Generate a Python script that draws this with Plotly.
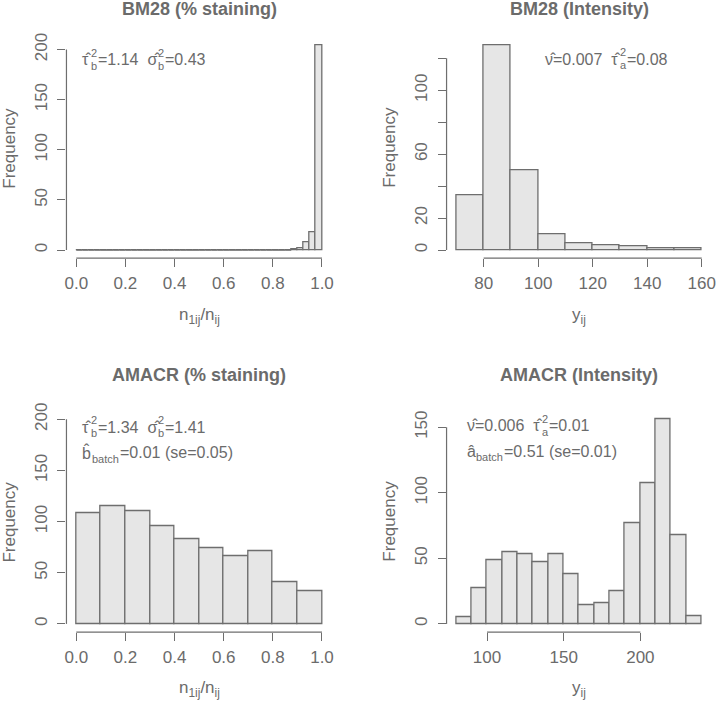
import numpy as np
import plotly.graph_objects as go

# ---------------- data ----------------
# Panel 1: BM28 (% staining)
bm28_pct_edges = [0.000, 0.025, 0.050, 0.075, 0.100, 0.125, 0.150, 0.175, 0.200, 0.225,
                  0.250, 0.275, 0.300, 0.325, 0.350, 0.375, 0.400, 0.425, 0.450, 0.475,
                  0.500, 0.525, 0.550, 0.575, 0.600, 0.625, 0.650, 0.675, 0.700, 0.725,
                  0.750, 0.775, 0.800, 0.825, 0.850, 0.875, 0.900, 0.925, 0.950, 0.975, 1.000]
bm28_pct_counts = [0, 0, 0, 0, 0, 0, 0, 0, 0, 0,
                   0, 0, 0, 0, 0, 0, 0, 0, 0, 0,
                   0, 0, 0, 0, 0, 0, 0, 0, 0, 0,
                   0, 0, 0, 0, 0, 1, 2, 8, 18, 204]
bm28_pct_xticks = [0.0, 0.2, 0.4, 0.6, 0.8, 1.0]
bm28_pct_xlabels = ["0.0", "0.2", "0.4", "0.6", "0.8", "1.0"]
bm28_pct_yticks = [0, 50, 100, 150, 200]
bm28_pct_ylabels = ["0", "50", "100", "150", "200"]

# Panel 2: BM28 (Intensity)
bm28_int_edges = [70, 80, 90, 100, 110, 120, 130, 140, 150, 160]
bm28_int_counts = [34, 128, 50, 10, 4, 3, 2, 1, 1]
bm28_int_xticks = [80, 100, 120, 140, 160]
bm28_int_xlabels = ["80", "100", "120", "140", "160"]
bm28_int_yticks = [0, 20, 40, 60, 80, 100, 120]
bm28_int_ylabels = ["0", "20", " ", "60", " ", "100", " "]

# Panel 3: AMACR (% staining)
amacr_pct_edges = [0.0, 0.1, 0.2, 0.3, 0.4, 0.5, 0.6, 0.7, 0.8, 0.9, 1.0]
amacr_pct_counts = [108, 115, 110, 96, 83, 74, 66, 71, 41, 32]
amacr_pct_xticks = [0.0, 0.2, 0.4, 0.6, 0.8, 1.0]
amacr_pct_xlabels = ["0.0", "0.2", "0.4", "0.6", "0.8", "1.0"]
amacr_pct_yticks = [0, 50, 100, 150, 200]
amacr_pct_ylabels = ["0", "50", "100", "150", "200"]
amacr_pct_ylim = [0, 200]

# Panel 4: AMACR (Intensity)
amacr_int_edges = [80, 90, 100, 110, 120, 130, 140, 150, 160, 170, 180, 190, 200, 210, 220, 230, 240]
amacr_int_counts = [5, 27, 49, 55, 53, 47, 53, 38, 14, 16, 25, 77, 107, 156, 68, 6]
amacr_int_xticks = [100, 150, 200]
amacr_int_xlabels = ["100", "150", "200"]
amacr_int_yticks = [0, 50, 100, 150]
amacr_int_ylabels = ["0", "50", "100", "150"]

titles = ["BM28 (% staining)", "BM28 (Intensity)", "AMACR (% staining)", "AMACR (Intensity)"]
xtitles = ["n<sub>1ij</sub>/n<sub>ij</sub>", "y<sub>ij</sub>",
           "n<sub>1ij</sub>/n<sub>ij</sub>", "y<sub>ij</sub>"]

# ---------------- style ----------------
W, H = 720, 702
FONT = "Liberation Sans, Arial, Helvetica, sans-serif"
TXT = "#6b6b6b"
AX = "#6e6e6e"
FILL = "#e6e6e6"
TICK_SIZE = 17
TITLE_SIZE = 18
ANN_SIZE = 16
SMALL = 11

# plot-region pixel boxes (left, right, top, bottom)
col_px = [(65.0, 332.6), (448.3, 715.5)]
row_px = [(29.7, 253.1), (407.8, 631.3)]
title_y_px = [1.5, 371.5]
xtitle_y_px = [311.5, 689.0]
ytitle_off_px = 57.0

panels = [
    dict(edges=bm28_pct_edges, counts=bm28_pct_counts, xt=bm28_pct_xticks, xl=bm28_pct_xlabels,
         yt=bm28_pct_yticks, yl=bm28_pct_ylabels, ylim=[0, max(bm28_pct_counts)], row=0, col=0),
    dict(edges=bm28_int_edges, counts=bm28_int_counts, xt=bm28_int_xticks, xl=bm28_int_xlabels,
         yt=bm28_int_yticks, yl=bm28_int_ylabels, ylim=[0, max(bm28_int_counts)], row=0, col=1),
    dict(edges=amacr_pct_edges, counts=amacr_pct_counts, xt=amacr_pct_xticks, xl=amacr_pct_xlabels,
         yt=amacr_pct_yticks, yl=amacr_pct_ylabels, ylim=amacr_pct_ylim, row=1, col=0),
    dict(edges=amacr_int_edges, counts=amacr_int_counts, xt=amacr_int_xticks, xl=amacr_int_xlabels,
         yt=amacr_int_yticks, yl=amacr_int_ylabels, ylim=[0, max(amacr_int_counts)], row=1, col=1),
]

fig = go.Figure()
shapes = []
annotations = []
layout = {}

for i, p in enumerate(panels):
    n = "" if i == 0 else str(i + 1)
    xa, ya = "x" + n, "y" + n
    edges = np.array(p["edges"], dtype=float)
    counts = np.array(p["counts"], dtype=float)
    mids = (edges[:-1] + edges[1:]) / 2
    widths = np.diff(edges)
    fig.add_trace(go.Bar(x=mids, y=counts, width=widths, xaxis=xa, yaxis=ya,
                         marker=dict(color=FILL, line=dict(color=AX, width=1.3)),
                         showlegend=False, hoverinfo="x+y"))
    # zero-count bins are drawn by R as flat lines on the baseline
    zx, zy = [], []
    for k in range(len(counts)):
        if counts[k] == 0:
            zx += [edges[k], edges[k + 1], None]
            zy += [0, 0, None]
    if zx:
        fig.add_trace(go.Scatter(x=zx, y=zy, mode="lines", xaxis=xa, yaxis=ya,
                                 line=dict(color=AX, width=1.3), showlegend=False,
                                 hoverinfo="skip"))
    xspan = edges[-1] - edges[0]
    xr = [edges[0] - 0.04 * xspan, edges[-1] + 0.04 * xspan]
    ylo, yhi = p["ylim"]
    yspan = yhi - ylo
    yr = [ylo - 0.04 * yspan, yhi + 0.04 * yspan]
    l, r = col_px[p["col"]]
    t, b = row_px[p["row"]]
    xdom = [l / W, r / W]
    ydom = [1 - b / H, 1 - t / H]
    common = dict(showgrid=False, zeroline=False, showline=False, ticks="outside",
                  ticklen=8, tickwidth=1.2, tickcolor=AX,
                  tickfont=dict(family=FONT, size=TICK_SIZE, color=TXT), fixedrange=True)
    layout["xaxis" + n] = dict(common, domain=xdom, range=xr, anchor=ya,
                               tickvals=p["xt"], ticktext=p["xl"], ticklabelstandoff=1)
    layout["yaxis" + n] = dict(common, domain=ydom, range=yr, anchor=xa,
                               tickvals=p["yt"], ticktext=p["yl"], tickangle=-90,
                               ticklabelstandoff=4)
    # axis lines spanning first..last tick (R style)
    shapes.append(dict(type="line", xref=xa, yref=ya + " domain", x0=p["xt"][0], x1=p["xt"][-1],
                       y0=0, y1=0, line=dict(color=AX, width=1.2)))
    shapes.append(dict(type="line", xref=xa + " domain", yref=ya, x0=0, x1=0,
                       y0=p["yt"][0], y1=p["yt"][-1], line=dict(color=AX, width=1.2)))
    # titles
    annotations.append(dict(text="<b>" + titles[i] + "</b>", xref="paper", yref="paper",
                            x=(l + r) / 2 / W, y=1 - title_y_px[p["row"]] / H,
                            xanchor="center", yanchor="middle", showarrow=False,
                            font=dict(family=FONT, size=TITLE_SIZE, color=TXT)))
    annotations.append(dict(text=xtitles[i], xref="paper", yref="paper",
                            x=(l + r) / 2 / W, y=1 - xtitle_y_px[p["row"]] / H,
                            xanchor="center", yanchor="middle", showarrow=False,
                            font=dict(family=FONT, size=TICK_SIZE, color=TXT)))
    annotations.append(dict(text="Frequency", xref="paper", yref="paper", textangle=-90,
                            x=(l - ytitle_off_px) / W, y=1 - (t + b) / 2 / H,
                            xanchor="center", yanchor="middle", showarrow=False,
                            font=dict(family=FONT, size=TICK_SIZE, color=TXT)))

# ---------------- statistic labels (stacked super/subscripts) ----------------
EM = {"0": .556, "1": .556, "2": .556, "3": .556, "4": .556, "5": .556, "6": .556,
      "7": .556, "8": .556, "9": .556, ".": .278, "=": .584, " ": .278, "(": .333,
      ")": .333, "s": .5, "e": .556, "a": .556, "b": .556, "t": .278, "c": .5,
      "h": .556, "τ": .46, "σ": .6, "ν": .52, "\u0302": 0.0, "â": .556}


def tw(s, size):
    return sum(EM.get(ch, .556) for ch in s) * size


def stat_line(xa, ya, x, y, segs):
    """segs: list of ('m', text) or ('s', sup, sub)"""
    off = 0.0
    for sg in segs:
        if sg[0] == "m":
            annotations.append(dict(text=sg[1], xref=xa, yref=ya, x=x, y=y, xshift=off,
                                    xanchor="left", yanchor="middle", showarrow=False,
                                    borderpad=0, font=dict(family=FONT, size=ANN_SIZE, color=TXT)))
            off += tw(sg[1], ANN_SIZE)
        else:
            sup, sub = sg[1], sg[2]
            off += 1.0
            if sup:
                annotations.append(dict(text=sup, xref=xa, yref=ya, x=x, y=y, xshift=off,
                                        yshift=7, xanchor="left", yanchor="middle",
                                        showarrow=False, borderpad=0,
                                        font=dict(family=FONT, size=SMALL, color=TXT)))
            if sub:
                annotations.append(dict(text=sub, xref=xa, yref=ya, x=x, y=y, xshift=off,
                                        yshift=-6, xanchor="left", yanchor="middle",
                                        showarrow=False, borderpad=0,
                                        font=dict(family=FONT, size=SMALL, color=TXT)))
            off += max(tw(sup, SMALL), tw(sub, SMALL)) + 1.0


tau_hat = "τ\u0302"
sig_hat = "σ\u0302"
nu_hat = "ν\u0302"
b_hat = "b\u0302"
a_hat = "â"

stat_line("x", "y", 0.02, 190,
          [("m", tau_hat), ("s", "2", "b"), ("m", "=1.14  " + sig_hat), ("s", "2", "b"), ("m", "=0.43")])
stat_line("x2", "y2", 102, 119.5,
          [("m", nu_hat + "=0.007  " + tau_hat), ("s", "2", "a"), ("m", "=0.08")])
stat_line("x3", "y3", 0.02, 192.5,
          [("m", tau_hat), ("s", "2", "b"), ("m", "=1.34  " + sig_hat), ("s", "2", "b"), ("m", "=1.41")])
stat_line("x3", "y3", 0.02, 167.5,
          [("m", b_hat), ("s", "", "batch"), ("m", "=0.01 (se=0.05)")])
stat_line("x4", "y4", 86, 151,
          [("m", nu_hat + "=0.006  " + tau_hat), ("s", "2", "a"), ("m", "=0.01")])
stat_line("x4", "y4", 86, 131.5,
          [("m", a_hat), ("s", "", "batch"), ("m", "=0.51 (se=0.01)")])

fig.update_layout(width=W, height=H, margin=dict(l=0, r=0, t=0, b=0),
                  paper_bgcolor="white", plot_bgcolor="white", bargap=0,
                  shapes=shapes, annotations=annotations, **layout)

fig.write_html("out.html", config={"displayModeBar": False},
               post_script="document.body.style.margin='0px';")
